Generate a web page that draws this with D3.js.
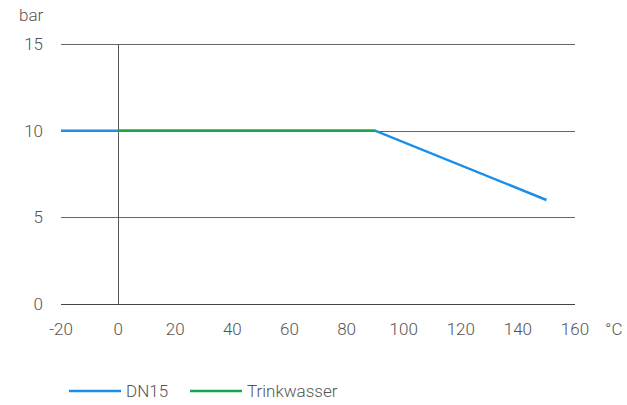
<!DOCTYPE html>
<html>
<head>
<meta charset="utf-8">
<script src="https://cdn.jsdelivr.net/npm/d3@7"></script>
<style>
  body { margin: 0; background: #fff; }
  text { font-family: Roboto, sans-serif; font-weight: 300; fill: #555; }
</style>
</head>
<body>
<div id="chart"></div>
<script>
const X_TICKS = [-20, 0, 20, 40, 60, 80, 100, 120, 140, 160];
const Y_TICKS = [0, 5, 10, 15];
const SERIES_NAMES = ["DN15", "Trinkwasser"];
const DN15 = [[-20, 10], [90, 10], [150, 6]];
const TRINKWASSER = [[0, 10], [90, 10]];
const COLORS = ["#1a8ee9", "#15a84e"];

const width = 627, height = 405;
const margin = { top: 44, right: 52, bottom: 101, left: 61 };
const innerW = width - margin.left - margin.right;
const innerH = height - margin.top - margin.bottom;
const FS = "17px";

const svg = d3.select("#chart").append("svg")
    .attr("width", width)
    .attr("height", height);

const g = svg.append("g")
    .attr("transform", `translate(${margin.left},${margin.top})`);

const x = d3.scaleLinear().domain([-20, 160]).range([0, innerW]);
const y = d3.scaleLinear().domain([0, 15]).range([innerH, 0]);

// horizontal grid
g.selectAll(".grid")
    .data(Y_TICKS)
    .enter().append("line")
    .attr("x1", 0).attr("x2", innerW)
    .attr("y1", d => Math.round(y(d)) + 0.5)
    .attr("y2", d => Math.round(y(d)) + 0.5)
    .attr("stroke", d => d === 0 ? "#444" : "#666")
    .attr("stroke-width", 1);

// vertical line at 0
g.append("line")
    .attr("x1", Math.round(x(0)) + 0.5).attr("x2", Math.round(x(0)) + 0.5)
    .attr("y1", 0).attr("y2", innerH)
    .attr("stroke", "#555");

// y tick labels
g.selectAll(".ylab")
    .data(Y_TICKS)
    .enter().append("text")
    .attr("x", -18)
    .attr("y", d => y(d))
    .attr("dy", "0.35em")
    .attr("text-anchor", "end")
    .style("font-size", FS)
    .text(d => d);

// x tick labels
g.selectAll(".xlab")
    .data(X_TICKS)
    .enter().append("text")
    .attr("x", d => x(d))
    .attr("y", innerH + 31)
    .attr("text-anchor", "middle")
    .style("font-size", FS)
    .text(d => d);

svg.append("text")
    .attr("x", 19).attr("y", 21)
    .style("font-size", FS)
    .text("bar");

svg.append("text")
    .attr("x", 605).attr("y", innerH + margin.top + 31)
    .style("font-size", FS)
    .text("°C");

const line = d3.line().x(d => x(d[0])).y(d => y(d[1]));

[DN15, TRINKWASSER].forEach((pts, i) => {
    g.append("path")
        .attr("d", line(pts))
        .attr("fill", "none")
        .attr("stroke", COLORS[i])
        .attr("stroke-width", 2.5);
});

// legend
const legendPos = [69, 190];
const legend = svg.selectAll(".legend-item")
    .data(SERIES_NAMES)
    .enter().append("g")
    .attr("transform", (d, i) => `translate(${legendPos[i]}, 391)`);

legend.append("line")
    .attr("x1", 0).attr("x2", 52)
    .attr("stroke", (d, i) => COLORS[i])
    .attr("stroke-width", 2.5);

legend.append("text")
    .attr("x", 57)
    .attr("dy", "0.35em")
    .style("font-size", FS)
    .text(d => d);
</script>
</body>
</html>
